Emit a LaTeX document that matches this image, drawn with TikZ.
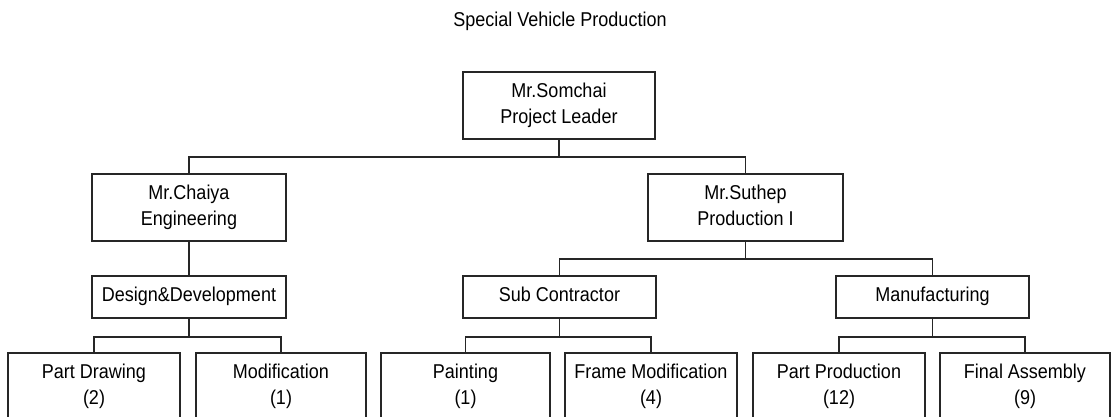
\documentclass[tikz,border=0pt]{standalone}
\usepackage{fontspec}
\setmainfont{Liberation Sans}[FakeStretch=0.9]
\newcommand\vs{\rule[-5pt]{0pt}{19.5pt}}
\begin{document}
\begin{tikzpicture}[x=1pt,y=-1pt,
  box/.style={draw=black!85, line width=1.5pt, rectangle, inner sep=0pt, align=center,
    minimum height=67pt, font=\fontsize{20}{26}\selectfont},
  sbox/.style={box, minimum height=42pt},
  link/.style={draw=black!85, line width=1.5pt}]
\clip (0,0) rectangle (1112,416);
\node[font=\fontsize{20}{26}\selectfont] (title) at (560,21) {Special Vehicle Production};
\node[box, minimum width=192pt] (top) at (559,105.5) {\vs Mr.Somchai\\\vs Project Leader};
\node[box, minimum width=194pt] (chaiya) at (189,207.5) {\vs Mr.Chaiya\\\vs Engineering};
\node[box, minimum width=195pt] (suthep) at (745.5,207.5) {\vs Mr.Suthep\\\vs Production I};
\node[sbox, minimum width=194pt] (design) at (189,297) {\vs Design\&Development};
\node[sbox, minimum width=193pt] (sub) at (559.5,297) {\vs Sub Contractor};
\node[sbox, minimum width=193pt] (manu) at (932.5,297) {\vs Manufacturing};
\node[box, minimum width=172pt] (pd) at (94,386.5) {\vs Part Drawing\\\vs (2)};
\node[box, minimum width=170pt] (mod) at (281,386.5) {\vs Modification\\\vs (1)};
\node[box, minimum width=169pt] (paint) at (465.5,386.5) {\vs Painting\\\vs (1)};
\node[box, minimum width=172pt] (frame) at (651,386.5) {\vs Frame Modification\\\vs (4)};
\node[box, minimum width=172pt] (pp) at (839,386.5) {\vs Part Production\\\vs (12)};
\node[box, minimum width=170pt] (fa) at (1025,386.5) {\vs Final Assembly\\\vs (9)};
\draw[link] (top.south) -- ++(0,17) -| (chaiya.north);
\draw[link] (top.south) -- ++(0,17) -| (suthep.north);
\draw[link] (chaiya.south) -- (design.north);
\draw[link] (suthep.south) -- ++(0,17) -| (sub.north);
\draw[link] (suthep.south) -- ++(0,17) -| (manu.north);
\draw[link] (design.south) -- ++(0,18) -| (pd.north);
\draw[link] (design.south) -- ++(0,18) -| (mod.north);
\draw[link] (sub.south) -- ++(0,18) -| (paint.north);
\draw[link] (sub.south) -- ++(0,18) -| (frame.north);
\draw[link] (manu.south) -- ++(0,18) -| (pp.north);
\draw[link] (manu.south) -- ++(0,18) -| (fa.north);
\end{tikzpicture}
\end{document}
